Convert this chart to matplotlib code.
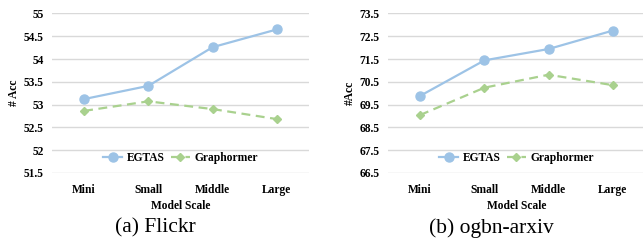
import matplotlib.pyplot as plt

scales = ['Mini', 'Small', 'Middle', 'Large']

# (a) Flickr
flickr_egtas = [53.12, 53.41, 54.26, 54.65]
flickr_graph = [52.86, 53.07, 52.90, 52.68]
flickr_ticks = [51.5, 52, 52.5, 53, 53.5, 54, 54.5, 55]

# (b) ogbn-arxiv
arxiv_egtas = [69.88, 71.44, 71.94, 72.75]
arxiv_graph = [69.04, 70.24, 70.81, 70.35]
arxiv_ticks = [66.5, 67.5, 68.5, 69.5, 70.5, 71.5, 72.5, 73.5]

plt.rcParams['font.family'] = ['Liberation Serif', 'DejaVu Serif']

blue = '#9DC3E6'
green = '#A9D18E'

fig = plt.figure(figsize=(6.43, 2.41), dpi=100)
ax1 = fig.add_axes([52 / 643, 0.283, 257 / 643, 0.661])
ax2 = fig.add_axes([388 / 643, 0.283, 257 / 643, 0.661])

panels = [
    (ax1, flickr_egtas, flickr_graph, flickr_ticks, '# Acc', '(a) Flickr', 155),
    (ax2, arxiv_egtas, arxiv_graph, arxiv_ticks, '#Acc', '(b) ogbn-arxiv', 491),
]

fs = 8.3
for ax, eg, gr, yt, ylab, cap, cx in panels:
    x = range(len(scales))
    ax.plot(x, eg, color=blue, lw=1.6, marker='o', ms=6.5, label='EGTAS', zorder=3)
    ax.plot(x, gr, color=green, lw=1.6, ls=(0, (4, 2.5)), marker='D', ms=4.5,
            label='Graphormer', zorder=3)
    ax.set_xlim(-0.5, 3.5)
    ax.set_ylim(yt[0], yt[-1])
    ax.set_yticks(yt)
    ax.set_yticklabels([('%g' % v) for v in yt], fontsize=fs, fontweight='bold')
    ax.set_xticks(list(x))
    ax.set_xticklabels(scales, fontsize=fs, fontweight='bold')
    ax.tick_params(length=0, pad=6)
    ax.tick_params(axis='x', pad=8)
    ax.grid(axis='y', color='#D9D9D9', lw=1)
    ax.set_axisbelow(True)
    for s in ax.spines.values():
        s.set_visible(False)
    ax.set_xlabel('Model Scale', fontsize=fs, fontweight='bold', labelpad=3)
    ax.set_ylabel(ylab, fontsize=fs, fontweight='bold', labelpad=3)
    ax.legend(loc='center', bbox_to_anchor=(0.5, 0.09), ncol=2, frameon=False,
              prop={'size': fs, 'weight': 'bold'}, handlelength=1.6,
              columnspacing=0.6, handletextpad=0.4)
    fig.text(cx / 643, 1 - 228 / 241, cap, ha='center', va='center', fontsize=15.5)

fig.savefig('out.png', dpi=100)
